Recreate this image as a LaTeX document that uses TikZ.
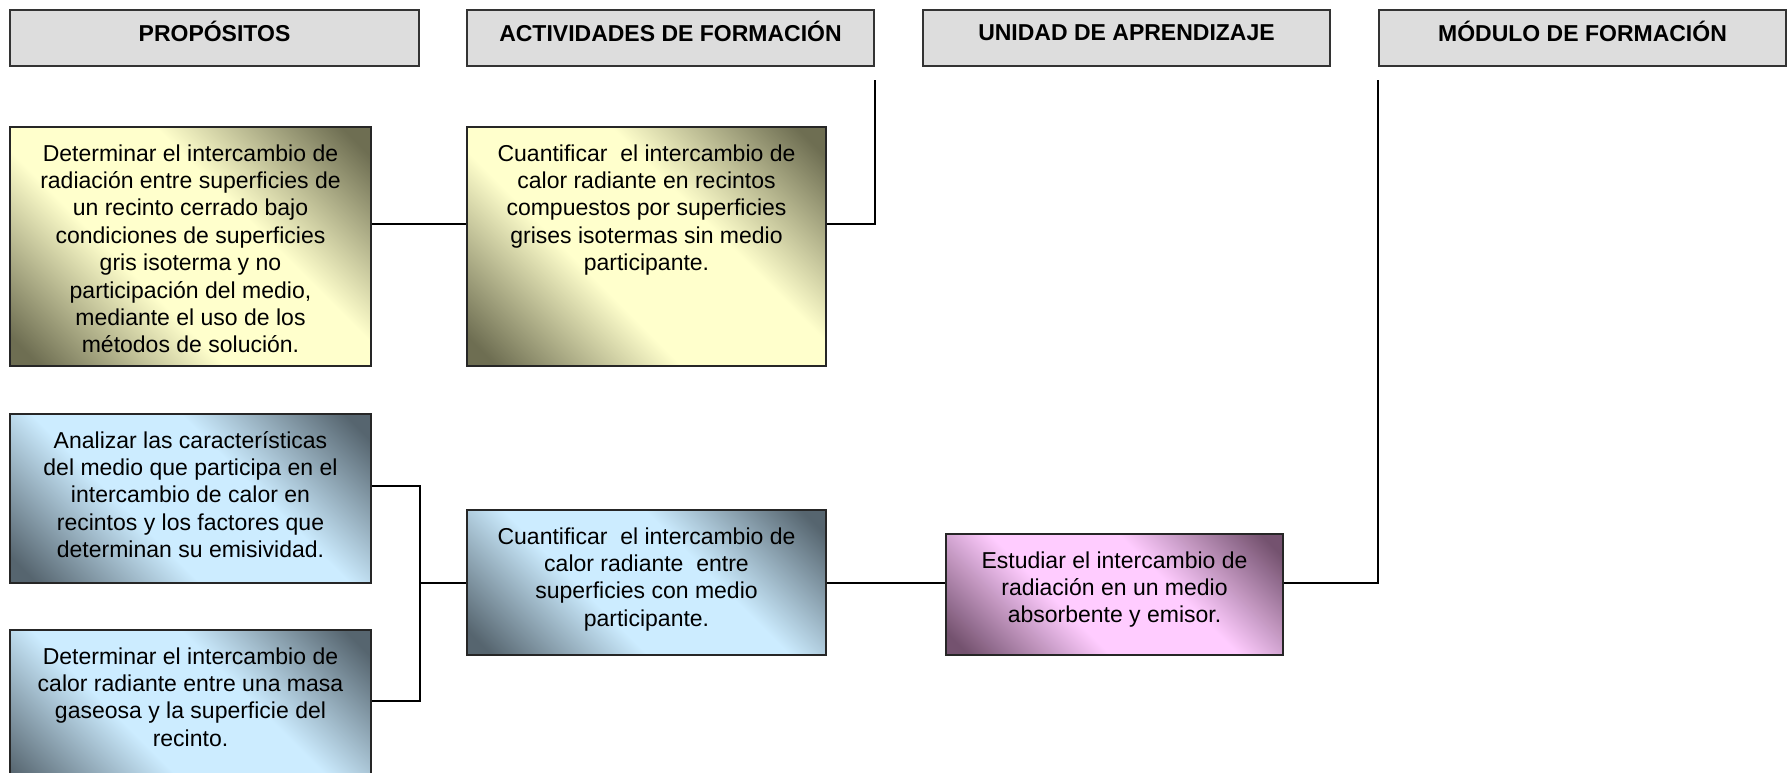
\documentclass[tikz,border=0pt]{standalone}
\usepackage{fontspec}
\setmainfont{Liberation Sans}
\definecolor{ylight}{HTML}{FFFFCC}
\definecolor{ydark}{HTML}{6E6E52}
\definecolor{blight}{HTML}{CCECFF}
\definecolor{bdark}{HTML}{56656F}
\definecolor{plight}{HTML}{FFCCFF}
\definecolor{pdark}{HTML}{74526F}
\definecolor{hgray}{HTML}{DDDDDD}
\pgfdeclareverticalshading{ysh}{100bp}{color(0bp)=(ydark); color(18bp)=(ydark); color(40bp)=(ylight); color(60bp)=(ylight); color(82bp)=(ydark); color(100bp)=(ydark)}
\pgfdeclareverticalshading{bsh}{100bp}{color(0bp)=(bdark); color(18bp)=(bdark); color(40bp)=(blight); color(60bp)=(blight); color(82bp)=(bdark); color(100bp)=(bdark)}
\pgfdeclareverticalshading{psh}{100bp}{color(0bp)=(pdark); color(18bp)=(pdark); color(40bp)=(plight); color(60bp)=(plight); color(82bp)=(pdark); color(100bp)=(pdark)}
\newcommand\bxt[3]{\parbox[t][#2][t]{#1}{\centering\fontsize{23}{27.4}\selectfont\vspace*{15pt}\strut #3}}
\newcommand\hdt[2]{\parbox[t][56pt][t]{#1}{\centering\fontsize{23}{27.4}\selectfont\bfseries\vspace*{11pt}\strut #2}}
\begin{document}
\begin{tikzpicture}[x=1pt,y=-1pt,
  box/.style={draw=black!85, line width=2pt, inner sep=0pt, anchor=north west},
  ybox/.style={box, shading=ysh, shading angle=-45},
  bbox/.style={box, shading=bsh, shading angle=-45},
  pbox/.style={box, shading=psh, shading angle=-45},
  hbox/.style={draw=black!80, line width=2pt, fill=hgray, inner sep=0pt, anchor=north west},
  conn/.style={draw=black, line width=2pt}]
\useasboundingbox (0,0) rectangle (1790,773);
% headers
\node[hbox] (hp) at (9,9) {\hdt{409pt}{PROPÓSITOS}};
\node[hbox] (ha) at (466,9) {\hdt{407pt}{ACTIVIDADES DE FORMACIÓN}};
\node[hbox] (hu) at (922,9) {\hdt{407pt}{UNIDAD DE APRENDIZAJE}};
\node[hbox] (hm) at (1378,9) {\hdt{407pt}{MÓDULO DE FORMACIÓN}};
% boxes
\node[ybox] (y1) at (9,126) {\bxt{361pt}{239pt}{Determinar el intercambio de\\ radiación entre superficies de\\ un recinto cerrado bajo\\ condiciones de superficies\\ gris isoterma y no\\ participación del medio,\\ mediante el uso de los\\ métodos de solución.}};
\node[ybox] (y2) at (466,126) {\bxt{359pt}{239pt}{Cuantificar\ \ el intercambio de\\ calor radiante en recintos\\ compuestos por superficies\\ grises isotermas sin medio\\ participante.}};
\node[bbox] (b1) at (9,413) {\bxt{361pt}{169pt}{Analizar las características\\ del medio que participa en el\\ intercambio de calor en\\ recintos y los factores que\\ determinan su emisividad.}};
\node[bbox] (b2) at (9,629) {\bxt{361pt}{169pt}{Determinar el intercambio de\\ calor radiante entre una masa\\ gaseosa y la superficie del\\ recinto.}};
\node[bbox] (b3) at (466,509) {\bxt{359pt}{145pt}{Cuantificar\ \ el intercambio de\\ calor radiante\ \ entre\\ superficies con medio\\ participante.}};
\node[pbox] (pk) at (945,533) {\bxt{337pt}{121pt}{Estudiar el intercambio de\\ radiación en un medio\\ absorbente y emisor.}};
% connectors
\draw[conn] ([yshift=22.5pt]y1.east) -- ([yshift=22.5pt]y2.west);
\draw[conn] ([yshift=22.5pt]y2.east) -| ([yshift=-13pt]ha.south east);
\coordinate (j) at (hp.south east |- b3.west);
\draw[conn] ([yshift=12.5pt]b1.east) -| (j);
\draw[conn] ([yshift=13.5pt]b2.east) -| (j);
\draw[conn] (j) -- (b3.west);
\draw[conn] (b3.east) -- (b3.east -| pk.west);
\draw[conn] (b3.east -| pk.east) -| ([yshift=-13pt]hm.south west);
\end{tikzpicture}
\end{document}
